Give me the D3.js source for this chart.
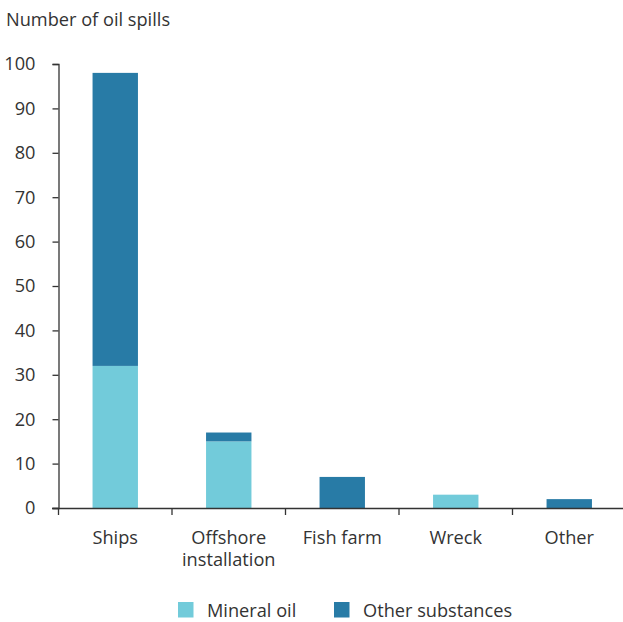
<!DOCTYPE html>
<html><head><meta charset="utf-8">
<script src="https://cdn.jsdelivr.net/npm/d3@7"></script>
<style>
body{margin:0;background:#fff;}
text{font-family:"Open Sans","Noto Sans",sans-serif;fill:#333;}
</style></head>
<body><svg id="c" width="623" height="622"></svg>
<script>
const categories = ["Ships", "Offshore installation", "Fish farm", "Wreck", "Other"];
const labelLines = [["Ships"], ["Offshore", "installation"], ["Fish farm"], ["Wreck"], ["Other"]];
const mineralOil = [32, 15, 0, 3, 0];
const otherSubstances = [66, 2, 7, 0, 2];
const seriesNames = ["Mineral oil", "Other substances"];
const colors = ["#72cbda", "#287ba6"];
const yTicks = [0, 10, 20, 30, 40, 50, 60, 70, 80, 90, 100];

const FS = "18.2px";
const svg = d3.select("#c");
const x = d3.scaleBand().domain(categories).range([58.5, 626]).paddingInner(0.6).paddingOuter(0.3);
const y = d3.scaleLinear().domain([0, 100]).range([508, 64]);

const data = categories.map((c, i) => ({cat: c, "Mineral oil": mineralOil[i], "Other substances": otherSubstances[i]}));
const stacked = d3.stack().keys(seriesNames)(data);

svg.append("text").attr("x", 6).attr("y", 26).style("font-size", FS).text("Number of oil spills");

svg.selectAll("g.s").data(stacked).join("g").attr("class", "s")
  .attr("fill", (d, i) => colors[i])
  .selectAll("rect").data(d => d).join("rect")
  .attr("x", d => x(d.data.cat))
  .attr("width", x.bandwidth())
  .attr("y", d => y(d[1]))
  .attr("height", d => y(d[0]) - y(d[1]));

// y axis
const ya = svg.append("g").attr("transform", "translate(58.5,0)")
  .call(d3.axisLeft(y).tickValues(yTicks).tickSize(6).tickPadding(17));
ya.selectAll("path,line").attr("stroke", "#333").attr("stroke-width", 1.3);
ya.selectAll("text").style("font-size", FS).attr("fill", "#333").style("font-family", '"Open Sans",sans-serif');

// x axis: line + ticks at band boundaries
const xa = svg.append("g");
const r = x.range();
xa.append("line").attr("x1", 52).attr("x2", 623).attr("y1", 508.5).attr("y2", 508.5).attr("stroke", "#333").attr("stroke-width", 1.6);
const bounds = d3.range(categories.length).map(i => r[0] + i * x.step());
xa.selectAll("line.t").data(bounds).join("line").attr("class", "t")
  .attr("x1", d => d).attr("x2", d => d).attr("y1", 508).attr("y2", 515)
  .attr("stroke", "#333").attr("stroke-width", 1.3);
const lab = xa.selectAll("text").data(categories).join("text")
  .attr("x", d => x(d) + x.bandwidth() / 2)
  .attr("y", 544)
  .attr("text-anchor", "middle").style("font-size", FS);
lab.each(function(d, i) {
  const t = d3.select(this);
  labelLines[i].forEach((s, j) => t.append("tspan").attr("x", x(d) + x.bandwidth() / 2).attr("dy", j ? 22 : 0).text(s));
});

// legend
const legX = [178, 334];
const lg = svg.selectAll("g.l").data(seriesNames).join("g").attr("class", "l")
  .attr("transform", (d, i) => `translate(${legX[i]},602)`);
lg.append("rect").attr("width", 15.5).attr("height", 15.5).attr("fill", (d, i) => colors[i]);
lg.append("text").attr("x", 29).attr("y", 14.5).style("font-size", FS).text(d => d);
</script></body></html>
